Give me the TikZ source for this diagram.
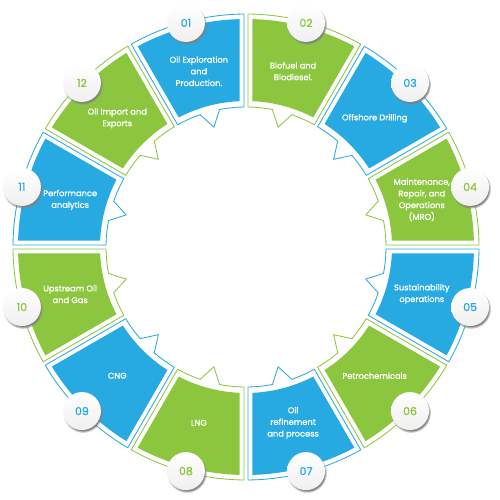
\documentclass[tikz,border=0pt]{standalone}
\usepackage{fontspec}
\setmainfont{Poppins}
\newfontfamily\segfont{Poppins}[FakeBold=1.2]
\usepackage{xcolor}
\usepackage{tikz}
\usetikzlibrary{shadows}

\definecolor{oilblue}{HTML}{27A9E1}
\definecolor{oilgreen}{HTML}{8CC63F}

% one ring segment: start angle, colour, number, text
\newcommand{\oilseg}[4]{%
\fill[#2] (#1-1.63:228) arc[start angle=#1-1.63, end angle=#1-28.37, radius=228]
  -- (#1-27.45:146) arc[start angle=#1-27.45, end angle=#1-2.55, radius=146] -- cycle;
\draw[#2, line width=0.6pt] (#1-0.5:233) arc[start angle=#1-0.5, end angle=#1-29.5, radius=233]
  -- (#1-29.2:140) arc[start angle=#1-29.2, end angle=#1-19.1, radius=140]
  -- (#1-15:124) -- (#1-10.9:140) arc[start angle=#1-10.9, end angle=#1-0.8, radius=140] -- cycle;
\node [segtext] (t#3) at (#1-15:182) {#4};
\node [numcircle, text=#2] (n#3) at (#1-15:232) {#3};
}

\begin{document}
\begin{tikzpicture}[x=0.025cm, y=0.025cm,
  segtext/.style={text=white, align=center, inner sep=0pt,
    font=\segfont\fontsize{5.9}{8.3}\selectfont},
  numcircle/.style={circle, minimum size=0.95cm, inner sep=0pt,
    top color=white, bottom color=gray!12,
    circular drop shadow={shadow xshift=0.6pt, shadow yshift=-1.2pt, shadow scale=1.06},
    font=\segfont\fontsize{7.8}{8}\selectfont}]
\useasboundingbox (-246,-253) rectangle (254,247);

\oilseg{120}{oilblue}{01}{Oil Exploration\\and\\Production.}
\oilseg{90}{oilgreen}{02}{Biofuel and\\Biodiesel.}
\oilseg{60}{oilblue}{03}{Offshore Drilling}
\oilseg{30}{oilgreen}{04}{Maintenance,\\Repair, and\\Operations\\(MRO)}
\oilseg{0}{oilblue}{05}{Sustainability\\operations}
\oilseg{-30}{oilgreen}{06}{Petrochemicals}
\oilseg{-60}{oilblue}{07}{Oil\\refinement\\and process}
\oilseg{-90}{oilgreen}{08}{LNG}
\oilseg{-120}{oilblue}{09}{CNG}
\oilseg{-150}{oilgreen}{10}{Upstream Oil\\and Gas}
\oilseg{180}{oilblue}{11}{Performance\\analytics}
\oilseg{150}{oilgreen}{12}{Oil Import and\\Exports}
\end{tikzpicture}
\end{document}
